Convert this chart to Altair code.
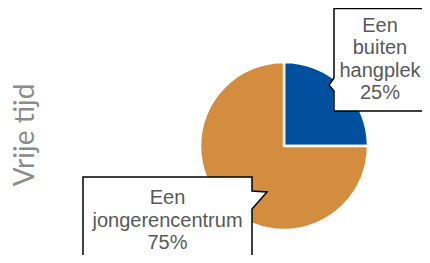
import altair as alt
import pandas as pd

# ---- data ----
categories = ["Een buiten hangplek", "Een jongerencentrum"]
values = [25, 75]
colors = ["#00509E", "#D48D3E"]
label_lines = [["Een", "buiten", "hangplek"], ["Een", "jongerencentrum"]]
panel_title = "Vrije tijd"

df = pd.DataFrame({
    "idx": list(range(len(categories))),
    "category": categories,
    "value": values,
    "label": ["\n".join(l + [f"{v}%"]) for l, v in zip(label_lines, values)],
})
one = pd.DataFrame({"k": [0]})

W, H = 414, 247

pie = alt.Chart(df).mark_arc(radius=84, stroke="white", strokeWidth=2.5).encode(
    theta=alt.Theta("value:Q", stack=True),
    color=alt.Color("category:N", scale=alt.Scale(domain=categories, range=colors), legend=None),
    order=alt.Order("idx:Q"),
    x=alt.value(276),
    y=alt.value(138),
)

callout1 = "M326,0.5 L440,0.5 L440,103 L326,103 L326,83 L321,77 L326,70 Z"
callout2 = "M75,169 L244,169 L244,183 L259,184 L244,201 L244,270 L75,270 Z"

def box(path):
    return alt.Chart(one).mark_point(
        shape=path, size=4, filled=True, fill="white", stroke="black",
        strokeWidth=1.5, opacity=1
    ).encode(x=alt.value(0), y=alt.value(0))

def label(cat, x, y):
    return alt.Chart(df).transform_filter(alt.datum.category == cat).mark_text(
        align="center", baseline="middle", fontSize=20, lineHeight=22.5,
        font="Liberation Sans", color="#595959", lineBreak="\n"
    ).encode(text="label:N", x=alt.value(x), y=alt.value(y))

title = alt.Chart(one).mark_text(
    text=panel_title, angle=270, align="center", baseline="middle",
    fontSize=28, font="Lato", fontWeight=400, color="#8C8C8C"
).encode(x=alt.value(17.5), y=alt.value(127))

chart = alt.layer(
    pie, box(callout1), box(callout2),
    label(categories[0], 372, 17.5), label(categories[1], 159.5, 190),
    title,
).properties(
    width=W, height=H, padding=0, autosize=alt.AutoSizeParams(type="none")
).configure_view(stroke=None)

chart.save("out.html", embed_options={"renderer": "svg", "actions": False})
